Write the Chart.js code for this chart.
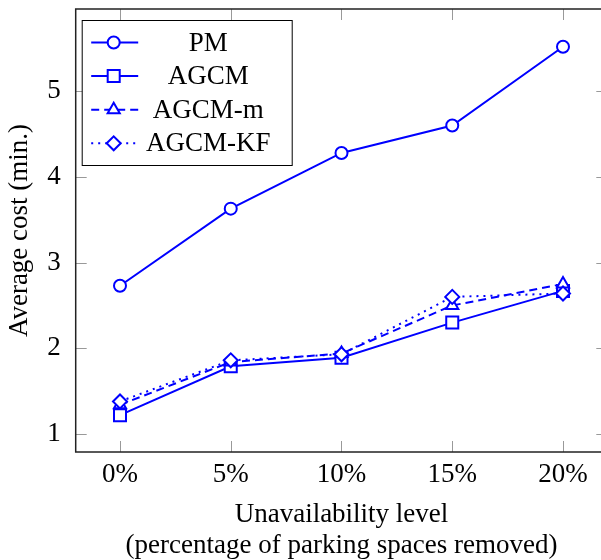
<!DOCTYPE html>
<html>
<head>
<meta charset="utf-8">
<script src="https://cdn.jsdelivr.net/npm/chart.js@4"></script>
<style>
html, body { margin: 0; padding: 0; overflow: hidden; background: #fff; }
</style>
</head>
<body>
<canvas id="chart_avgCost" width="612" height="560"></canvas>
<script>
// values
var levels = ['0%', '5%', '10%', '15%', '20%'];
var costPM = [2.73, 3.63, 4.28, 4.60, 5.52];
var costAGCM = [1.22, 1.79, 1.89, 2.30, 2.67];
var costAGCMm = [1.34, 1.84, 1.94, 2.50, 2.75];
var costAGCMKF = [1.38, 1.86, 1.93, 2.60, 2.64];
var costTicks = [1, 2, 3, 4, 5];

var BLUE = '#0000ff';
var SERIF = "'Liberation Serif', 'Times New Roman', serif";

Chart.defaults.font.family = SERIF;
Chart.defaults.font.size = 27;
Chart.defaults.color = '#000';

function toPoints(values) {
    return values.map(function (v, i) { return { x: i, y: v }; });
}

function series(label, values, style, radius, dash, order) {
    return {
        label: label,
        data: toPoints(values),
        borderColor: BLUE,
        backgroundColor: '#fff',
        borderWidth: 2,
        borderDash: dash,
        pointStyle: style,
        pointRadius: radius,
        pointHoverRadius: radius,
        pointBorderWidth: 2,
        pointBorderColor: BLUE,
        pointBackgroundColor: '#fff',
        tension: 0,
        order: order
    };
}

// no extra room for edge labels, the plot box is fixed
function fixBox(size) {
    return function (scale) {
        if (scale.isHorizontal()) scale.height = size; else scale.width = size;
        scale.paddingTop = 0;
        scale.paddingBottom = 0;
        scale.paddingLeft = 0;
        scale.paddingRight = 0;
    };
}

var chart_avgCost = new Chart(document.getElementById('chart_avgCost'), {
    type: 'line',
    data: {
        datasets: [
            series('PM', costPM, 'circle', 6, [], 4),
            series('AGCM', costAGCM, 'rect', 8.5, [], 3),
            series('AGCM-m', costAGCMm, 'triangle', 7, [8, 5], 2),
            series('AGCM-KF', costAGCMKF, 'rectRot', 7, [2, 5], 1)
        ]
    },
    options: {
        animation: false,
        responsive: false,
        events: [],
        layout: { autoPadding: false, padding: { top: 9, right: 4.7, left: 0, bottom: 0 } },
        plugins: {
            legend: { display: false },
            tooltip: { enabled: false }
        },
        scales: {
            x: {
                type: 'linear',
                min: -0.4,
                max: 4.4,
                grid: { display: false, drawTicks: false },
                border: { display: false },
                afterBuildTicks: function (scale) {
                    scale.ticks = levels.map(function (l, i) { return { value: i }; });
                },
                ticks: {
                    padding: 7,
                    autoSkip: false,
                    maxRotation: 0,
                    callback: function (value) { return levels[value]; }
                },
                title: {
                    display: true,
                    text: ['Unavailability level', '(percentage of parking spaces removed)'],
                    font: { size: 27, lineHeight: 1.15 },
                    padding: { top: 0, bottom: -1 }
                },
                afterFit: fixBox(108)
            },
            y: {
                type: 'linear',
                min: 0.79,
                max: 5.96,
                grid: { display: false, drawTicks: false },
                border: { display: false },
                afterBuildTicks: function (scale) {
                    scale.ticks = costTicks.map(function (v) { return { value: v }; });
                },
                ticks: { padding: 15 },
                title: {
                    display: true,
                    text: 'Average cost (min.)',
                    font: { size: 27, lineHeight: 1.15 },
                    padding: { top: 4, bottom: 0 }
                },
                afterFit: fixBox(75.7)
            }
        }
    },
    plugins: [{
        id: 'frameAndTicks',
        beforeDatasetsDraw: function (chart) {
            var ctx = chart.ctx;
            var a = chart.chartArea;
            var xs = chart.scales.x, ys = chart.scales.y;
            ctx.save();
            ctx.strokeStyle = '#999';
            ctx.lineWidth = 1;
            xs.ticks.forEach(function (t) {
                var px = Math.round(xs.getPixelForValue(t.value)) + 0.5;
                ctx.beginPath();
                ctx.moveTo(px, a.bottom); ctx.lineTo(px, a.bottom - 11);
                ctx.moveTo(px, a.top); ctx.lineTo(px, a.top + 11);
                ctx.stroke();
            });
            ys.ticks.forEach(function (t) {
                var py = Math.round(ys.getPixelForValue(t.value)) + 0.5;
                ctx.beginPath();
                ctx.moveTo(a.left, py); ctx.lineTo(a.left + 11, py);
                ctx.moveTo(a.right, py); ctx.lineTo(a.right - 11, py);
                ctx.stroke();
            });
            ctx.strokeStyle = '#222';
            ctx.lineWidth = 1.5;
            ctx.strokeRect(a.left, a.top, a.right - a.left, a.bottom - a.top);
            ctx.restore();
        },
        afterDraw: function (chart) {
            // legend box in the upper left corner of the plot
            var ctx = chart.ctx;
            var a = chart.chartArea;
            var bx = a.left + 6.5, by = a.top + 11.5, bw = 210, bh = 145;
            ctx.save();
            ctx.fillStyle = '#fff';
            ctx.fillRect(bx, by, bw, bh);
            ctx.strokeStyle = '#000';
            ctx.lineWidth = 1;
            ctx.strokeRect(bx, by, bw, bh);
            chart.data.datasets.forEach(function (ds, i) {
                var y = by + 22 + i * 33.6;
                ctx.strokeStyle = ds.borderColor;
                ctx.lineWidth = ds.borderWidth;
                ctx.setLineDash(ds.borderDash);
                ctx.beginPath();
                ctx.moveTo(bx + 9, y); ctx.lineTo(bx + 56, y);
                ctx.stroke();
                ctx.setLineDash([]);
                ctx.fillStyle = '#fff';
                ctx.lineWidth = ds.pointBorderWidth;
                Chart.helpers.drawPoint(ctx, {
                    pointStyle: ds.pointStyle, radius: ds.pointRadius, rotation: 0, borderWidth: ds.pointBorderWidth
                }, bx + 31.5, y);
                ctx.fillStyle = '#000';
                ctx.font = '27px ' + SERIF;
                ctx.textAlign = 'center';
                ctx.textBaseline = 'middle';
                ctx.fillText(ds.label, bx + 126, y + 1);
            });
            ctx.restore();
        }
    }]
});
</script>
</body>
</html>
